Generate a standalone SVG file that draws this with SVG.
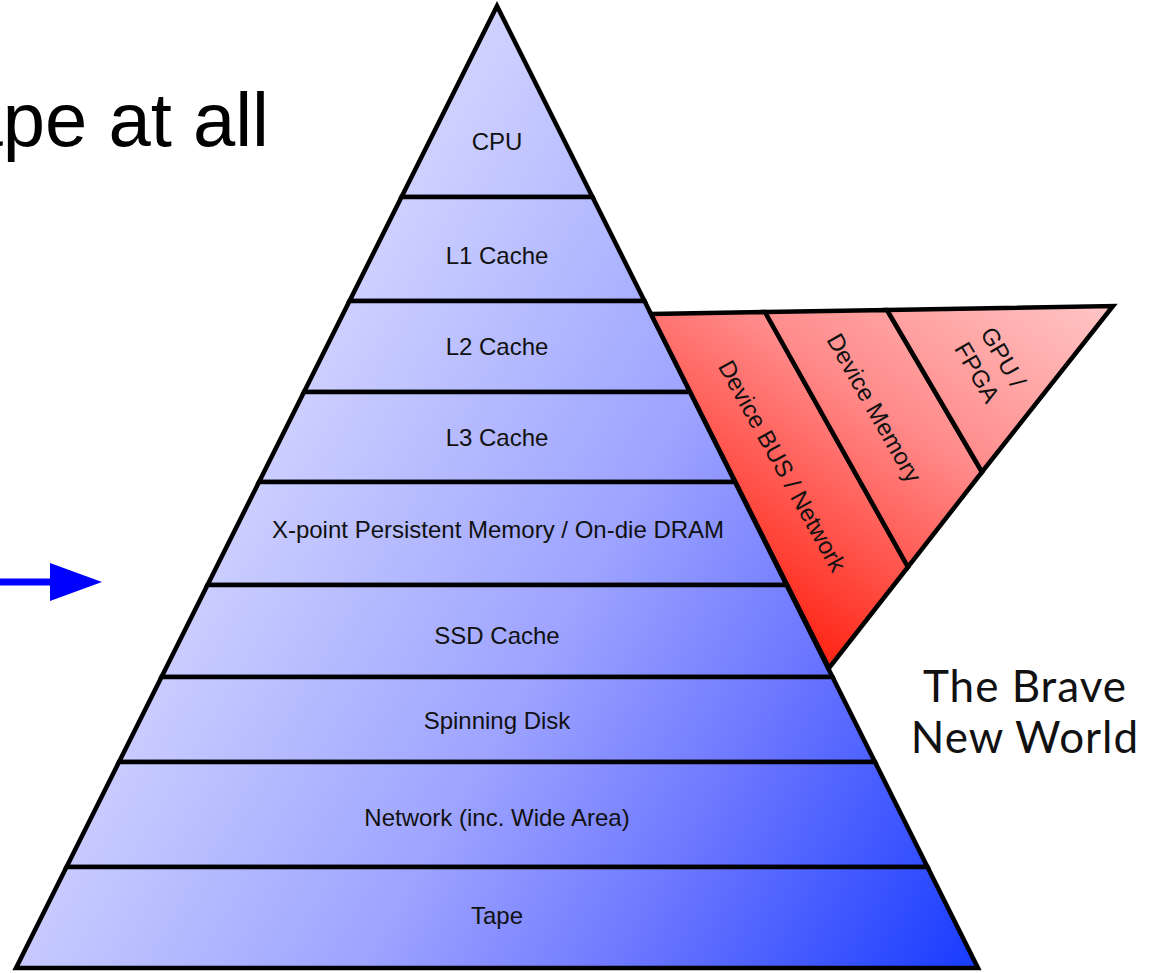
<svg xmlns="http://www.w3.org/2000/svg" width="1151" height="973" viewBox="0 0 1151 973">
<defs>
<linearGradient id="blueGrad" gradientUnits="userSpaceOnUse" x1="375" y1="216" x2="1143" y2="660">
<stop offset="0" stop-color="#cfd2ff"/>
<stop offset="0.08" stop-color="#c6c9ff"/>
<stop offset="0.3" stop-color="#aab0ff"/>
<stop offset="0.41" stop-color="#9ea4ff"/>
<stop offset="0.66" stop-color="#6e78ff"/>
<stop offset="1" stop-color="#1a3dff"/>
</linearGradient>
<linearGradient id="redGrad" gradientUnits="userSpaceOnUse" x1="1080" y1="300" x2="830" y2="668">
<stop offset="0" stop-color="#ffc2c2"/>
<stop offset="0.45" stop-color="#ff8a8a"/>
<stop offset="1" stop-color="#ff2414"/>
</linearGradient>
</defs>
<style>
.layer{fill:url(#blueGrad);stroke:#000;stroke-width:4.5;stroke-linejoin:miter;stroke-miterlimit:20}
.band{fill:url(#redGrad);stroke:#000;stroke-width:4.5;stroke-linejoin:miter;stroke-miterlimit:20}
.lbl{font-family:"Liberation Sans",Arial,Helvetica,sans-serif;font-size:24px;fill:#111;text-anchor:middle}
.big{font-family:"Liberation Sans",Arial,Helvetica,sans-serif;font-size:76px;fill:#000}
.brave{font-family:Lato,"Open Sans",sans-serif;font-size:44px;letter-spacing:1px;fill:#111;text-anchor:middle}
</style>
<rect width="1151" height="973" fill="#fff"/>
<text class="big" x="269" y="146" text-anchor="end">ape at all</text>

<g id="layer-cpu"><polygon class="layer" points="497,6 592.5,197 401.5,197"/><text class="lbl" x="497" y="150">CPU</text></g>
<g id="layer-l1"><polygon class="layer" points="401.5,197 592.5,197 644.5,301 349.5,301"/><text class="lbl" x="497" y="264">L1 Cache</text></g>
<g id="layer-l2"><polygon class="layer" points="349.5,301 644.5,301 690,392 304,392"/><text class="lbl" x="497" y="355">L2 Cache</text></g>
<g id="layer-l3"><polygon class="layer" points="304,392 690,392 735,482 259,482"/><text class="lbl" x="497" y="446">L3 Cache</text></g>
<g id="layer-xpoint"><polygon class="layer" points="259,482 735,482 786.5,585 207.5,585"/><text class="lbl" x="498" y="538">X-point Persistent Memory / On-die DRAM</text></g>
<g id="layer-ssd"><polygon class="layer" points="207.5,585 786.5,585 832.5,677 161.5,677"/><text class="lbl" x="497" y="644">SSD Cache</text></g>
<g id="layer-disk"><polygon class="layer" points="161.5,677 832.5,677 875,762 119,762"/><text class="lbl" x="497" y="729">Spinning Disk</text></g>
<g id="layer-network"><polygon class="layer" points="119,762 875,762 927.5,867 66.5,867"/><text class="lbl" x="497" y="826">Network (inc. Wide Area)</text></g>
<g id="layer-tape"><polygon class="layer" points="66.5,867 927.5,867 978,968 16,968"/><text class="lbl" x="497" y="924">Tape</text></g>

<g id="band-bus"><polygon class="band" points="651,314 765,312 908,567 829,668"/><text class="lbl" transform="translate(775,470) rotate(61)">Device BUS / Network</text></g>
<g id="band-memory"><polygon class="band" points="765,312 887,310 982,472 908,567"/><text class="lbl" transform="translate(867,412) rotate(60.5)">Device Memory</text></g>
<g id="band-gpu"><polygon class="band" points="887,310 1113,306 982,472"/><g transform="translate(983,369) rotate(60)"><text class="lbl" x="0" y="-15">GPU /</text><text class="lbl" x="0" y="15">FPGA</text></g></g>

<g id="label-brave"><text class="brave" x="1025" y="702">The Brave</text><text class="brave" x="1025" y="753">New World</text></g>

<g id="connectors">
<line x1="0" y1="582" x2="52" y2="582" stroke="#0000ff" stroke-width="7"/>
<polygon points="50,563 102,582 50,601" fill="#0000ff"/>
</g>
</svg>
